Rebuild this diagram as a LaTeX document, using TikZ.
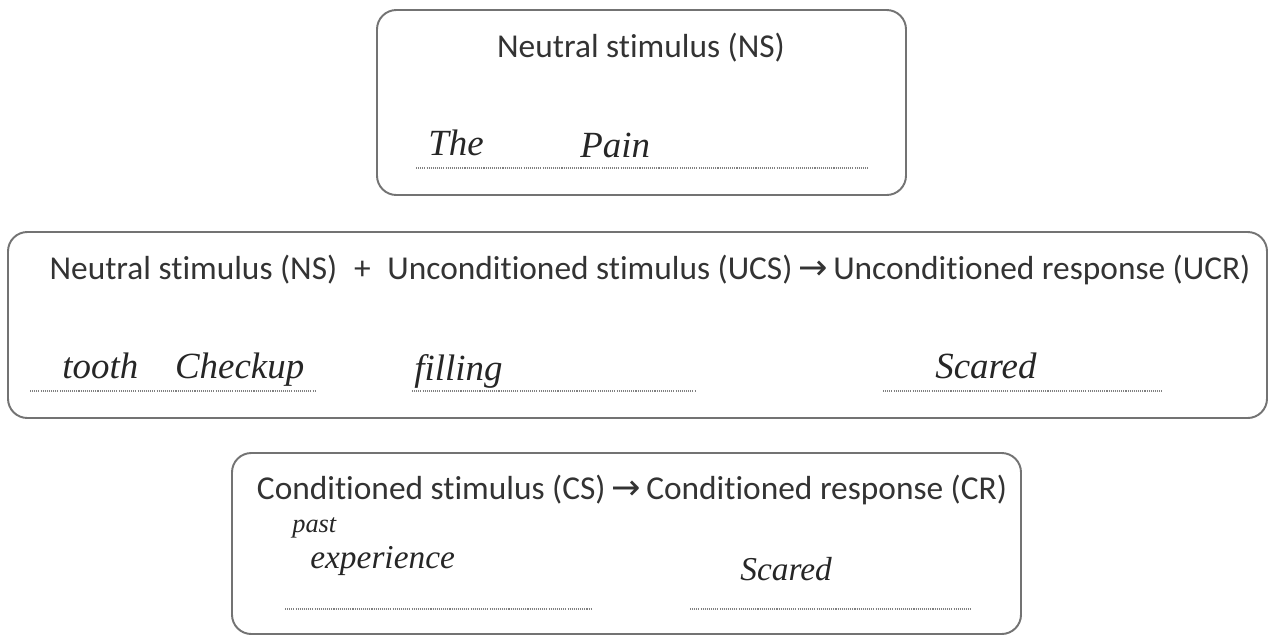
\documentclass[tikz,border=0pt]{standalone}
\usepackage{fontspec}
\setmainfont{Carlito}[Ligatures=NoCommon]
\newfontfamily\handfont{Liberation Serif}
\newfontfamily\arrowfont{DejaVu Sans}
\newcommand{\goesto}{\,{\arrowfont\fontsize{20}{22}\selectfont →}\,}

\begin{document}
\begin{tikzpicture}[x=0.02cm,y=-0.02cm,
  box/.style={draw=black!55, line width=1.1pt, rounded corners=11pt},
  answerline/.style={draw=black!50, line width=0.7pt, dash pattern=on 0.6pt off 0.6pt},
  printed/.style={text=black!80, font=\fontsize{19}{22}\selectfont},
  hand/.style={text=black!85, anchor=base west, inner sep=0pt,
    font=\handfont\itshape\fontsize{21}{24}\selectfont}]
\useasboundingbox (0,0) rectangle (1271,637);

% Boxes
\draw[box] (377,10) rectangle (906,195); % top box
\draw[box] (8,232) rectangle (1267,418); % middle box
\draw[box] (232,453) rectangle (1021,634); % bottom box

% Printed texts
\node[printed] (ns) at (641,48) {Neutral stimulus (NS)};
\node[printed] (pairing) at (650,270) {Neutral stimulus (NS) \;+\; Unconditioned stimulus (UCS)\goesto Unconditioned response (UCR)};
\node[printed] (conditioned) at (632,490) {Conditioned stimulus (CS)\goesto Conditioned response (CR)};

% Answer lines
\draw[answerline] (416,168) -- (868,168);
\draw[answerline] (30,391) -- (316,391);
\draw[answerline] (412,391) -- (695,391);
\draw[answerline] (883,391) -- (1163,391);
\draw[answerline] (285,609) -- (592,609);
\draw[answerline] (690,609) -- (972,609);

% Handwritten answers
\node[hand] (the) at (428,155) {The};
\node[hand] (pain) at (580,157) {Pain};
\node[hand] (tooth) at (62,378) {tooth\quad Checkup};
\node[hand] (filling) at (414,380) {filling};
\node[hand] (scaredA) at (935,378) {Scared};
\node[hand, font=\handfont\itshape\fontsize{15}{18}\selectfont] (past) at (292,532) {past};
\node[hand, font=\handfont\itshape\fontsize{19}{22}\selectfont] (experience) at (310,568) {experience};
\node[hand, font=\handfont\itshape\fontsize{19}{22}\selectfont] (scaredB) at (740,580) {Scared};
\end{tikzpicture}
\end{document}
